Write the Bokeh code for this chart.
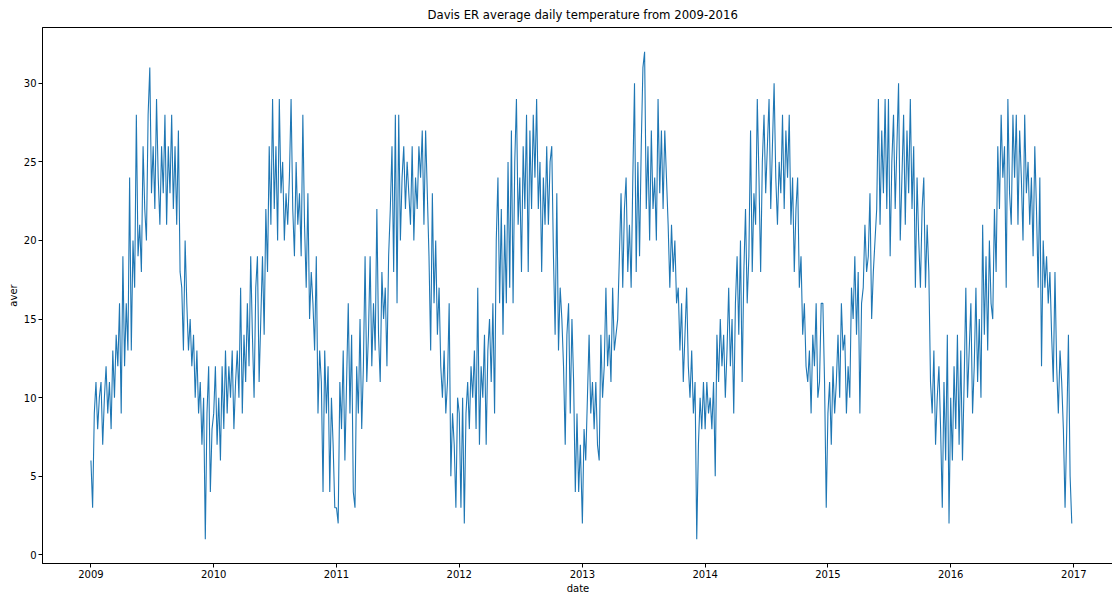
import pandas as pd
from bokeh.plotting import figure
from bokeh.models import FixedTicker, DatetimeTickFormatter, Range1d, ColumnDataSource
from bokeh.embed import file_html
from bokeh.resources import INLINE

temps_2009 = [6, 3, 9, 11, 8, 10, 11, 7, 10, 12, 9, 11, 8, 13, 10, 14, 12, 16, 9, 19,
              12, 16, 13, 24, 13, 20, 17, 28, 19, 21, 18, 26, 22, 20, 28, 31, 23, 26, 22, 29,
              24, 21, 26, 23, 28, 21, 26, 23, 28, 22, 26, 21, 27, 18, 17, 13, 20, 16, 13, 15,
              12, 14, 10, 13, 9, 11, 7, 10, 1, 9, 12, 4, 8]
temps_2010 = [9, 12, 7, 10, 6, 12, 8, 13, 9, 12, 10, 13, 8, 11, 13, 10, 17, 9, 14, 11,
              16, 12, 19, 14, 10, 17, 19, 11, 15, 19, 14, 22, 18, 26, 21, 29, 22, 26, 20, 29,
              23, 25, 20, 23, 21, 24, 29, 22, 19, 25, 21, 23, 19, 28, 21, 17, 23, 15, 18, 16,
              13, 19, 9, 13, 11, 4, 13, 9, 12, 4, 10, 7, 3]
temps_2011 = [3, 2, 11, 8, 13, 6, 11, 16, 9, 14, 4, 3, 12, 9, 15, 8, 12, 19, 11, 14,
              19, 12, 16, 13, 22, 14, 11, 18, 15, 17, 12, 19, 22, 26, 18, 28, 16, 28, 20, 24,
              26, 22, 25, 23, 21, 26, 20, 24, 22, 26, 24, 27, 21, 27, 23, 19, 13, 23, 16, 20,
              14, 17, 12, 10, 13, 9, 11, 16, 5, 9, 7, 3, 10]
temps_2012 = [9, 3, 10, 2, 9, 11, 8, 12, 10, 13, 8, 17, 7, 12, 10, 14, 7, 13, 15, 11,
              16, 9, 20, 24, 16, 22, 14, 21, 16, 25, 17, 27, 16, 25, 29, 21, 24, 18, 26, 22,
              28, 18, 27, 22, 28, 24, 29, 22, 25, 18, 24, 21, 26, 21, 25, 26, 19, 14, 23, 13,
              17, 15, 12, 7, 14, 16, 9, 15, 11, 4, 9, 4, 7]
temps_2013 = [2, 8, 6, 10, 14, 9, 11, 8, 11, 7, 6, 14, 10, 12, 17, 12, 14, 11, 17, 13,
              14, 15, 19, 23, 17, 22, 24, 18, 21, 17, 24, 30, 18, 25, 19, 26, 31, 32, 22, 26,
              20, 27, 22, 24, 20, 29, 23, 27, 22, 27, 24, 21, 17, 21, 18, 20, 16, 17, 13, 16,
              11, 14, 17, 12, 10, 13, 9, 11, 1, 7, 10, 8, 11]
temps_2014 = [8, 11, 9, 10, 8, 11, 5, 14, 11, 15, 12, 14, 10, 13, 17, 12, 15, 9, 16, 19,
              14, 20, 11, 18, 22, 16, 19, 27, 18, 23, 21, 29, 24, 18, 25, 28, 23, 26, 29, 22,
              26, 30, 24, 21, 25, 23, 28, 22, 27, 24, 28, 21, 24, 18, 22, 24, 17, 19, 14, 16,
              12, 11, 13, 9, 14, 12, 16, 10, 11, 16, 16, 11, 3]
temps_2015 = [9, 11, 7, 12, 9, 11, 14, 10, 16, 13, 14, 9, 12, 10, 17, 15, 19, 14, 18, 9,
              16, 17, 21, 18, 19, 23, 15, 18, 20, 22, 29, 21, 27, 23, 29, 22, 29, 19, 25, 28,
              22, 26, 30, 20, 24, 28, 21, 27, 23, 29, 22, 26, 17, 24, 20, 17, 22, 24, 17, 21,
              18, 11, 9, 13, 7, 10, 12, 8, 3, 11, 6, 14, 2]
temps_2016 = [10, 6, 12, 8, 14, 7, 13, 6, 11, 17, 10, 13, 16, 9, 12, 17, 11, 15, 10, 21,
              14, 19, 13, 20, 16, 15, 22, 18, 26, 22, 28, 24, 26, 17, 29, 23, 21, 28, 24, 28,
              21, 27, 24, 20, 28, 23, 25, 21, 24, 19, 26, 22, 17, 24, 12, 20, 17, 19, 16, 18,
              14, 11, 18, 12, 9, 13, 11, 8, 3, 8, 14, 5, 2]

years = [2009, 2010, 2011, 2012, 2013, 2014, 2015, 2016]
yearly = [temps_2009, temps_2010, temps_2011, temps_2012,
          temps_2013, temps_2014, temps_2015, temps_2016]
tick_years = [2009, 2010, 2011, 2012, 2013, 2014, 2015, 2016, 2017]
y_ticks = [0, 5, 10, 15, 20, 25, 30]

dates = []
aver = []
for yr, vals in zip(years, yearly):
    dates.extend(pd.date_range(f"{yr}-01-01", periods=len(vals), freq="5D"))
    aver.extend(vals)

source = ColumnDataSource(dict(date=dates, aver=aver))

x_start = pd.Timestamp("2008-08-10")
x_end = x_start + pd.Timedelta(days=3184)

p = figure(width=1113, height=596, x_axis_type="datetime",
           title="Davis ER average daily temperature from 2009-2016",
           output_backend="svg", toolbar_location=None,
           x_range=Range1d(x_start, x_end), y_range=Range1d(-0.55, 33.55),
           min_border_left=42, min_border_right=0, min_border_top=0, min_border_bottom=30)

p.line("date", "aver", source=source, line_color="#1f77b4", line_width=1.1)

p.title.align = "left"
p.title.text_font = "DejaVu Sans"
p.title.text_font_size = "11.7px"
p.title.text_font_style = "normal"
p.title.text_color = "#000000"
p.title.standoff = 11
p.title.offset = 385

p.xgrid.visible = False
p.ygrid.visible = False
p.outline_line_color = "#000000"
p.outline_line_width = 1
p.background_fill_color = "white"
p.border_fill_color = "white"

p.xaxis.ticker = FixedTicker(ticks=[pd.Timestamp(f"{y}-01-01").value / 1e6 for y in tick_years])
fmt = "%Y"
p.xaxis.formatter = DatetimeTickFormatter(years=fmt, months=fmt, days=fmt, hours=fmt,
                                          minutes=fmt, seconds=fmt, milliseconds=fmt,
                                          microseconds=fmt, minsec=fmt, hourmin=fmt)
p.yaxis.ticker = FixedTicker(ticks=y_ticks)

for ax in (p.xaxis, p.yaxis):
    ax.axis_line_color = "#000000"
    ax.axis_line_width = 1
    ax.major_tick_line_color = "#000000"
    ax.major_tick_out = 4
    ax.major_tick_in = 0
    ax.minor_tick_line_color = None
    ax.major_label_text_font = "DejaVu Sans"
    ax.major_label_text_font_size = "10px"
    ax.major_label_text_color = "#000000"
    ax.major_label_standoff = 2
    ax.axis_label_text_font = "DejaVu Sans"
    ax.axis_label_text_font_size = "10px"
    ax.axis_label_text_font_style = "normal"
    ax.axis_label_text_color = "#000000"
    ax.axis_label_standoff = 2

p.xaxis.axis_label = "date"
p.yaxis.axis_label = "aver"

open("out.html", "w").write(file_html(p, INLINE))
